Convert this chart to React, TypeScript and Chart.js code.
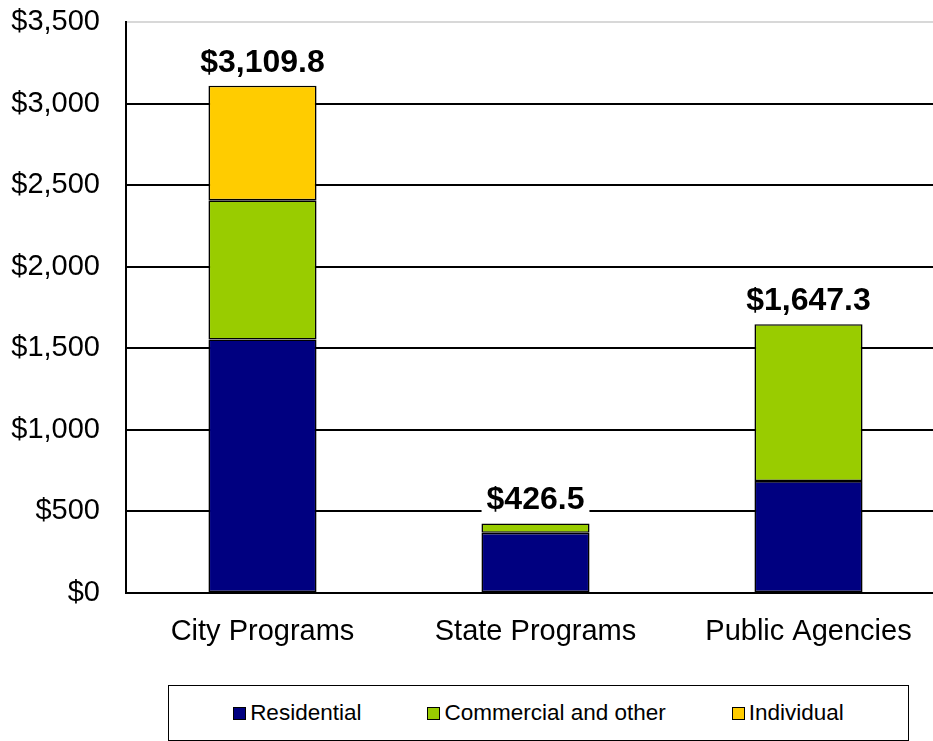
import React, { useEffect, useRef } from "react";
import { Chart, registerables } from "chart.js";

Chart.register(...registerables);

const categories = ["City Programs", "State Programs", "Public Agencies"];
const residential = [1554, 369, 686];
const commercial = [852.8, 57.5, 961.3];
const individual = [703, null, null];
const seriesNames = ["Residential", "Commercial and other", "Individual"];
const seriesColors = ["#000080", "#99CC00", "#FFCC00"];
const yTicks = [0, 500, 1000, 1500, 2000, 2500, 3000, 3500];

const FONT = "'Liberation Sans', Arial, sans-serif";

const fmtMoney = (v: number, dec: number) =>
  "$" + v.toLocaleString("en-US", { minimumFractionDigits: dec, maximumFractionDigits: dec });

const totalsPlugin = {
  id: "totals",
  afterDatasetsDraw(chart: any) {
    const ctx = chart.ctx;
    const y = chart.scales.y;
    const x = chart.scales.x;
    ctx.save();
    ctx.font = `bold 32px ${FONT}`;
    ctx.textAlign = "center";
    ctx.textBaseline = "alphabetic";
    categories.forEach((_, i) => {
      const total = (residential[i] || 0) + (commercial[i] || 0) + (individual[i] || 0);
      const label = fmtMoney(total, 1);
      const px = x.getPixelForValue(i);
      const top = y.getPixelForValue(total);
      const base = top - 14;
      const w = ctx.measureText(label).width;
      ctx.fillStyle = "#ffffff";
      ctx.fillRect(px - w / 2 - 5, base - 28, w + 10, 35);
      ctx.fillStyle = "#000000";
      ctx.fillText(label, px, base);
    });
    ctx.restore();
  },
};

export default function App() {
  const ref = useRef<HTMLCanvasElement | null>(null);
  useEffect(() => {
    if (!ref.current) return;
    const data = [residential, commercial, individual];
    const chart = new Chart(ref.current, {
      type: "bar",
      data: {
        labels: categories,
        datasets: seriesNames.map((name, k) => ({
          label: name,
          data: data[k] as any,
          backgroundColor: seriesColors[k],
          borderColor: "#000000",
          borderWidth: 1.6,
          borderSkipped: false,
          categoryPercentage: 1,
          barPercentage: 0.396,
        })),
      },
      options: {
        responsive: false,
        animation: false,
        layout: { padding: { top: 22, left: 0, right: 0, bottom: 0 } },
        plugins: {
          legend: { display: false },
          tooltip: { enabled: false },
        },
        scales: {
          x: {
            stacked: true,
            grid: { display: false },
            border: { display: true, color: "#000000", width: 2 },
            ticks: {
              color: "#000000",
              font: { family: FONT, size: 29 },
              padding: 14,
            },
            afterFit(scale: any) {
              scale.height = 67;
              scale.paddingLeft = 0;
              scale.paddingRight = 0;
            },
          },
          y: {
            stacked: true,
            min: 0,
            max: 3500,
            afterBuildTicks(scale: any) {
              scale.ticks = yTicks.map((v) => ({ value: v }));
            },
            grid: {
              color: (c: any) => (c.tick && c.tick.value === 3500 ? "#d8d8d8" : "#000000"),
              lineWidth: 2,
              drawTicks: false,
            },
            border: { display: true, color: "#000000", width: 2 },
            ticks: {
              color: "#000000",
              font: { family: FONT, size: 29 },
              padding: 26,
              callback: (v: any) => fmtMoney(Number(v), 0),
            },
            afterFit(scale: any) {
              scale.width = 126;
              scale.paddingTop = 0;
              scale.paddingBottom = 0;
            },
          },
        },
      },
      plugins: [totalsPlugin],
    });
    return () => chart.destroy();
  }, []);

  return (
    <div
      style={{
        position: "absolute",
        left: 0,
        top: 0,
        width: 933,
        height: 741,
        overflow: "hidden",
        background: "#ffffff",
        fontFamily: FONT,
      }}
    >
      <canvas ref={ref} width={945} height={660} style={{ position: "absolute", left: 0, top: 0 }} />
      <div
        style={{
          position: "absolute",
          left: 168,
          top: 685,
          width: 741,
          height: 56,
          boxSizing: "border-box",
          border: "1.5px solid #000",
          display: "flex",
          alignItems: "center",
          justifyContent: "center",
          gap: 66,
          fontSize: 22.5,
          color: "#000",
        }}
      >
        {seriesNames.map((n, k) => (
          <div key={n} style={{ display: "flex", alignItems: "center" }}>
            <span
              style={{
                display: "inline-block",
                width: 13,
                height: 13,
                boxSizing: "border-box",
                border: "1px solid #000",
                background: seriesColors[k],
                marginRight: 4,
              }}
            />
            <span>{n}</span>
          </div>
        ))}
      </div>
    </div>
  );
}
